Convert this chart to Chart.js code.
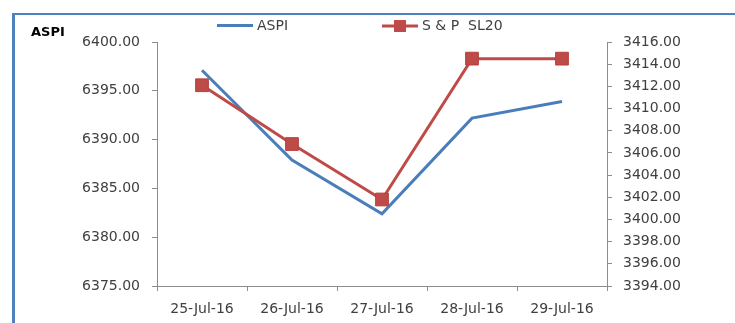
<!DOCTYPE html>
<html>
<head>
<meta charset="utf-8">
<script src="https://cdn.jsdelivr.net/npm/chart.js@4/dist/chart.umd.min.js"></script>
<style>
  html, body { margin: 0; padding: 0; background: #ffffff; overflow: hidden; }
  #wrap { position: relative; width: 735px; height: 323px; }
  #frame {
    position: absolute; left: 12px; top: 13px; width: 800px; height: 400px;
    border-left: 3px solid #4F81BD; border-top: 2px solid #4F81BD;
  }
  canvas { position: absolute; left: 0; top: 0; }
</style>
</head>
<body>
<div id="wrap">
  <div id="frame"></div>
  <canvas id="chart" width="735" height="323"></canvas>
</div>
<script>
// Trading days
const categories = ['25-Jul-16', '26-Jul-16', '27-Jul-16', '28-Jul-16', '29-Jul-16'];
// All Share Price Index (left axis)
const aspiValues = [6397.1, 6387.9, 6382.4, 6392.2, 6393.9];
// S&P SL20 index (right axis)
const spSl20Values = [3412.1, 3406.8, 3401.8, 3414.5, 3414.5];
// Axis ranges
const aspiAxis = { min: 6375, max: 6400, step: 5 };
const spAxis = { min: 3394, max: 3416, step: 2 };
const seriesNames = ['ASPI', 'S & P  SL20'];
const axisTitle = 'ASPI';

const FONT = 'DejaVu Sans';
const BLUE = '#4A7EBB';
const RED = '#BE4B48';
const TEXT = '#404040';
const AXIS = '#8C8C8C';

// Legend with line samples plus the "ASPI" caption in the top-left corner
const decorations = {
  id: 'decorations',
  afterDraw(chart) {
    const ctx = chart.ctx;
    ctx.save();
    ctx.font = 'bold 13px "' + FONT + '"';
    ctx.fillStyle = '#000000';
    ctx.textBaseline = 'middle';
    ctx.textAlign = 'left';
    ctx.fillText(axisTitle, 31, 33);

    ctx.font = '14px "' + FONT + '"';
    ctx.fillStyle = TEXT;
    // ASPI sample
    ctx.strokeStyle = BLUE;
    ctx.lineWidth = 3;
    ctx.beginPath();
    ctx.moveTo(217, 25.5);
    ctx.lineTo(253, 25.5);
    ctx.stroke();
    ctx.fillText(seriesNames[0], 257, 26);
    // S&P SL20 sample
    ctx.strokeStyle = RED;
    ctx.beginPath();
    ctx.moveTo(382, 26);
    ctx.lineTo(418, 26);
    ctx.stroke();
    ctx.fillStyle = RED;
    ctx.fillRect(394, 20, 12, 12);
    ctx.fillStyle = TEXT;
    ctx.fillText(seriesNames[1], 422, 26);
    ctx.restore();
  }
};

new Chart(document.getElementById('chart'), {
  type: 'line',
  data: {
    labels: categories,
    datasets: [
      {
        label: seriesNames[0],
        data: aspiValues,
        yAxisID: 'yLeft',
        borderColor: BLUE,
        borderWidth: 3,
        pointRadius: 0,
        pointHoverRadius: 0,
        tension: 0,
        order: 1
      },
      {
        label: seriesNames[1],
        data: spSl20Values,
        yAxisID: 'yRight',
        borderColor: RED,
        backgroundColor: RED,
        borderWidth: 3,
        pointStyle: 'rect',
        pointRadius: 9,
        pointBorderWidth: 1,
        pointBorderColor: '#B4413E',
        pointBackgroundColor: RED,
        tension: 0,
        order: 0
      }
    ]
  },
  options: {
    responsive: false,
    animation: false,
    events: [],
    layout: { padding: { top: 42, left: 0, right: 0, bottom: 0 } },
    plugins: {
      legend: { display: false },
      tooltip: { enabled: false }
    },
    scales: {
      x: {
        offset: true,
        grid: {
          offset: true,
          drawOnChartArea: false,
          tickLength: 5,
          color: AXIS
        },
        border: { color: AXIS, width: 1 },
        ticks: {
          font: { family: FONT, size: 14 },
          color: TEXT,
          padding: 10,
          maxRotation: 0
        },
        afterFit(scale) { scale.height = 37; }
      },
      yLeft: {
        position: 'left',
        min: aspiAxis.min,
        max: aspiAxis.max,
        grid: { drawOnChartArea: false, tickLength: 5, color: AXIS },
        border: { color: AXIS, width: 1 },
        ticks: {
          stepSize: aspiAxis.step,
          font: { family: FONT, size: 14 },
          color: TEXT,
          padding: 12,
          callback: v => Number(v).toFixed(2)
        },
        afterFit(scale) { scale.width = 157; }
      },
      yRight: {
        position: 'right',
        min: spAxis.min,
        max: spAxis.max,
        grid: { drawOnChartArea: false, tickLength: 5, color: AXIS },
        border: { color: AXIS, width: 1 },
        ticks: {
          stepSize: spAxis.step,
          font: { family: FONT, size: 14 },
          color: TEXT,
          padding: 11,
          callback: v => Number(v).toFixed(2)
        },
        afterFit(scale) { scale.width = 128; }
      }
    }
  },
  plugins: [decorations]
});
</script>
</body>
</html>
